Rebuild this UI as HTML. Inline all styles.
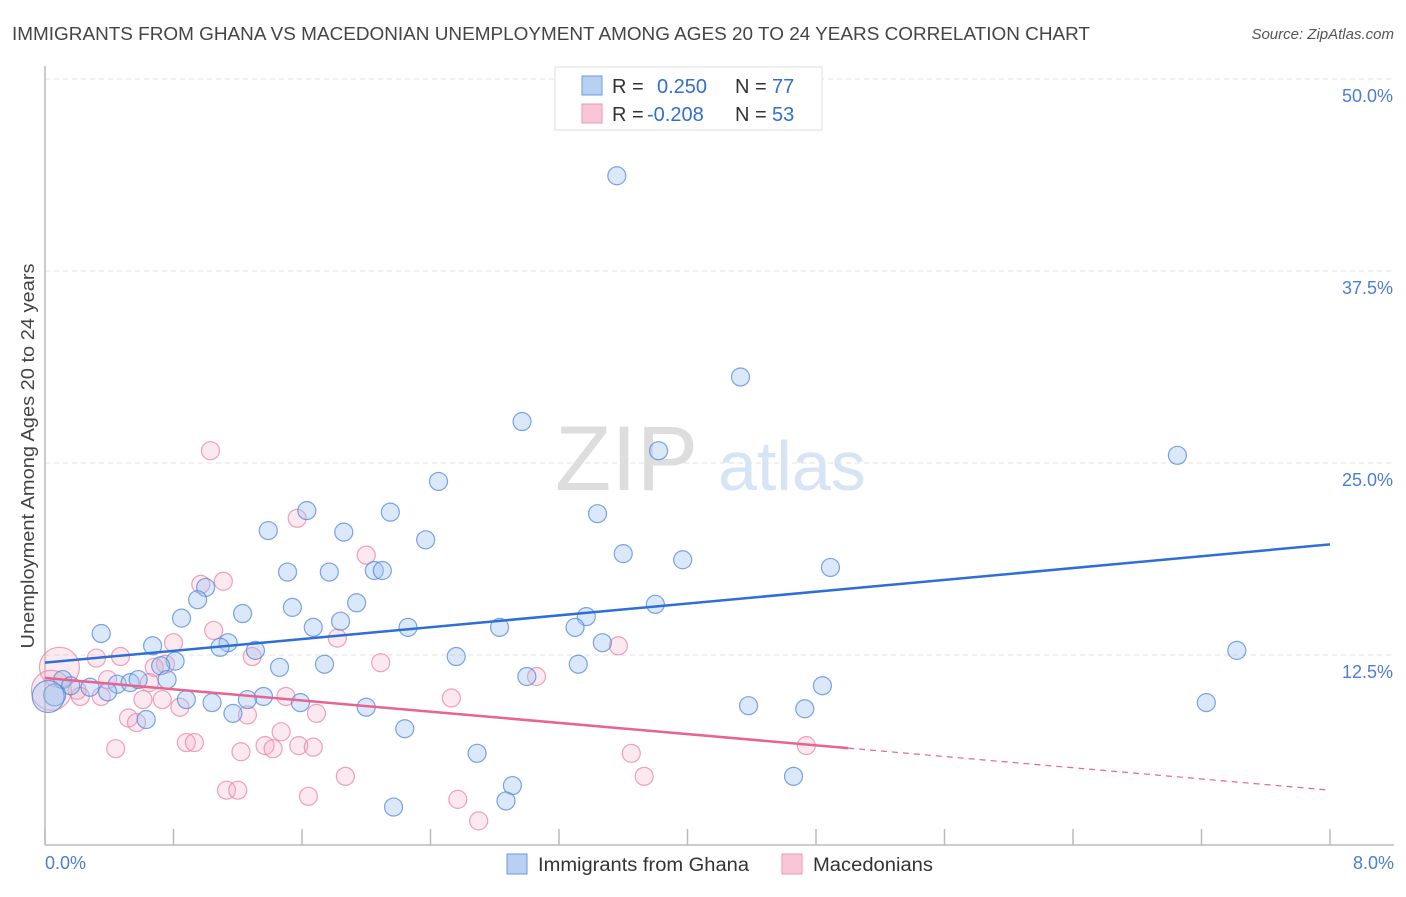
<!DOCTYPE html>
<html><head><meta charset="utf-8"><style>
body{margin:0;background:#fff;font-family:"Liberation Sans",sans-serif}
svg text{font-family:"Liberation Sans",sans-serif}
</style></head><body>
<svg width="1406" height="892" viewBox="0 0 1406 892">
<text x="12" y="40" font-size="18" fill="#444" textLength="1078" lengthAdjust="spacingAndGlyphs">IMMIGRANTS FROM GHANA VS MACEDONIAN UNEMPLOYMENT AMONG AGES 20 TO 24 YEARS CORRELATION CHART</text>
<text x="1394" y="39" font-size="15" fill="#555" text-anchor="end" font-style="italic">Source: ZipAtlas.com</text>
<g id="grid"></g>
<text x="555" y="490" font-size="92" fill="#ddd" font-family="Liberation Serif">ZIP</text>
<text x="718" y="490" font-size="70" fill="#d6e4f5">atlas</text>
<g id="axes"></g>
<g id="pts"></g>
<g id="trend"></g>
<text transform="translate(34,456) rotate(-90)" font-size="18" fill="#444" text-anchor="middle" textLength="385" lengthAdjust="spacingAndGlyphs">Unemployment Among Ages 20 to 24 years</text>
<text x="45" y="869" font-size="18" fill="#4a7fd0">0.0%</text>
<text x="1394" y="869" font-size="18" fill="#4a7fd0" text-anchor="end">8.0%</text>
<g>
<rect x="555" y="67" width="267" height="63" fill="#fff" stroke="#ddd"/>
<rect x="582" y="76" width="20" height="19" fill="#b8d0f2" stroke="#6a9ae0"/>
<rect x="582" y="104" width="20" height="19" fill="#f8c6d6" stroke="#eb97b2"/>
<text x="612" y="93" font-size="20" fill="#333">R =</text><text x="657" y="93" font-size="20" fill="#2f6fd0">0.250</text>
<text x="735" y="93" font-size="20" fill="#333">N =</text><text x="772" y="93" font-size="20" fill="#2f6fd0">77</text>
<text x="612" y="121" font-size="20" fill="#333">R =</text><text x="647" y="121" font-size="20" fill="#2f6fd0">-0.208</text>
<text x="735" y="121" font-size="20" fill="#333">N =</text><text x="772" y="121" font-size="20" fill="#2f6fd0">53</text>
</g>
<g>
<rect x="507" y="854" width="20" height="20" fill="#b8d0f2" stroke="#6a9ae0"/>
<text x="538" y="871" font-size="19" fill="#333" textLength="211" lengthAdjust="spacingAndGlyphs">Immigrants from Ghana</text>
<rect x="782" y="854" width="20" height="20" fill="#f8c6d6" stroke="#eb97b2"/>
<text x="813" y="871" font-size="19" fill="#333" textLength="120" lengthAdjust="spacingAndGlyphs">Macedonians</text>
</g>
</svg>
<script>
const yTicks=[12.5,25,37.5,50];
const yTickLabels=["12.5%","25.0%","37.5%","50.0%"];
const xTicks=[0,0.8,1.6,2.4,3.2,4,4.8,5.6,6.4,7.2,8];
const ghanaX=[3.56,4.33,2.97,3.82,7.05,2.45,1.63,2.15,3.44,1.39,1.86,2.37,3.60,3.97,1.51,1.77,2.05,2.10,4.89,1.00,0.95,1.94,1.54,3.80,1.23,3.37,0.85,1.84,1.67,2.26,2.83,3.30,0.35,3.47,0.67,1.14,1.09,1.31,7.42,0.81,0.72,2.56,1.46,1.74,3.32,3.00,0.76,4.84,0.11,0.16,0.28,0.45,0.53,0.58,0.39,0.06,1.36,0.88,1.04,1.26,1.59,7.23,2.00,4.38,4.73,1.17,0.63,2.24,2.69,4.66,2.91,2.17,2.87,0.02];
const ghanaY=[43.7,30.6,27.7,25.8,25.5,23.8,21.9,21.8,21.7,20.6,20.5,20.0,19.1,18.7,17.9,17.9,18.0,18.0,18.2,16.9,16.1,15.9,15.6,15.8,15.2,15.0,14.9,14.7,14.3,14.3,14.3,14.3,13.9,13.3,13.1,13.3,13.0,12.8,12.8,12.1,11.8,12.4,11.7,11.9,11.9,11.1,10.9,10.5,10.9,10.5,10.4,10.6,10.7,10.9,10.1,9.9,9.8,9.6,9.4,9.6,9.4,9.4,9.1,9.2,9.0,8.7,8.3,7.7,6.1,4.6,4.0,2.6,3.0,9.8];
const macX=[1.03,1.57,2.00,1.11,0.97,1.05,0.80,1.82,3.57,0.32,0.47,1.29,2.09,0.68,0.75,0.09,3.06,0.39,0.65,0.04,0.20,0.22,0.35,1.50,2.53,0.73,0.61,0.84,1.26,1.69,0.52,0.57,1.47,0.88,0.93,1.22,1.37,1.42,1.58,1.67,0.44,4.74,3.65,1.87,3.73,1.13,1.20,1.64,2.57,2.70];
const macY=[25.8,21.4,19.0,17.3,17.1,14.1,13.3,13.6,13.1,12.3,12.4,12.4,12.0,11.7,11.9,11.7,11.1,10.9,10.7,10.2,10.2,9.8,9.8,9.8,9.7,9.6,9.6,9.1,8.6,8.7,8.4,8.1,7.5,6.8,6.8,6.2,6.6,6.4,6.6,6.5,6.4,6.6,6.1,4.6,4.6,3.7,3.7,3.3,3.1,1.7];
const ghanaTrend=[12.0,19.7];
const macTrend=[11.0,3.7];
const macSolidEnd=5.0;
const NS="http://www.w3.org/2000/svg";
const X0=45,X1=1330,YB=847,YPX=192/12.5;
const xs=v=>X0+v*(X1-X0)/8, ys=v=>YB-v*YPX;
function mk(tag,attrs,parent){const e=document.createElementNS(NS,tag);for(const k in attrs)e.setAttribute(k,attrs[k]);parent.appendChild(e);return e;}
const grid=document.getElementById('grid');
yTicks.forEach((t,i)=>{
 const l=mk('line',{x1:X0,x2:1394,y1:ys(t),y2:ys(t),stroke:'#e0e0e0','stroke-dasharray':'5,4'},grid);
 
 
 const tx=mk('text',{x:1393,y:ys(t)+23,'font-size':18,fill:'#4a7fd0','text-anchor':'end'},grid);
 tx.textContent=yTickLabels[i];
 
 
});
const axes=document.getElementById('axes');
const ya=mk('line',{x1:X0,x2:X0,y1:66,y2:845,stroke:'#bbb','stroke-width':1.5},axes);


const xa=mk('line',{x1:X0,x2:1394,y1:845,y2:845,stroke:'#bbb','stroke-width':1.5},axes);


xTicks.forEach(t=>{const l=mk('line',{x1:xs(t),x2:xs(t),y1:829,y2:845,stroke:'#bbb','stroke-width':1.5},axes);
 
 });
const pts=document.getElementById('pts');
macX.forEach((x,i)=>{const r=(x<0.1)?20:9;
 const c=mk('circle',{cx:xs(x),cy:ys(macY[i]),r:r,fill:'rgba(244,168,195,0.25)',stroke:'rgba(232,130,165,0.75)','stroke-width':1.2},pts);
 
 });
ghanaX.forEach((x,i)=>{const r=(x<0.1)?(x<0.04?16:11):9;
 const c=mk('circle',{cx:xs(x),cy:ys(ghanaY[i]),r:r,fill:'rgba(160,194,240,0.38)',stroke:'rgba(80,135,215,0.75)','stroke-width':1.2},pts);
 
 });
const tr=document.getElementById('trend');
const bl=mk('line',{x1:xs(0),y1:ys(ghanaTrend[0]),x2:xs(8),y2:ys(ghanaTrend[1]),stroke:'#2d6fd6','stroke-width':2.5},tr);


const mid=macTrend[0]+(macTrend[1]-macTrend[0])*macSolidEnd/8;
const pl=mk('line',{x1:xs(0),y1:ys(macTrend[0]),x2:xs(macSolidEnd),y2:ys(mid),stroke:'#e8638f','stroke-width':2.5},tr);


const pd=mk('line',{x1:xs(macSolidEnd),y1:ys(mid),x2:xs(8),y2:ys(macTrend[1]),stroke:'#e8638f','stroke-width':1.2,'stroke-dasharray':'6,5'},tr);


</script>
</body></html>
